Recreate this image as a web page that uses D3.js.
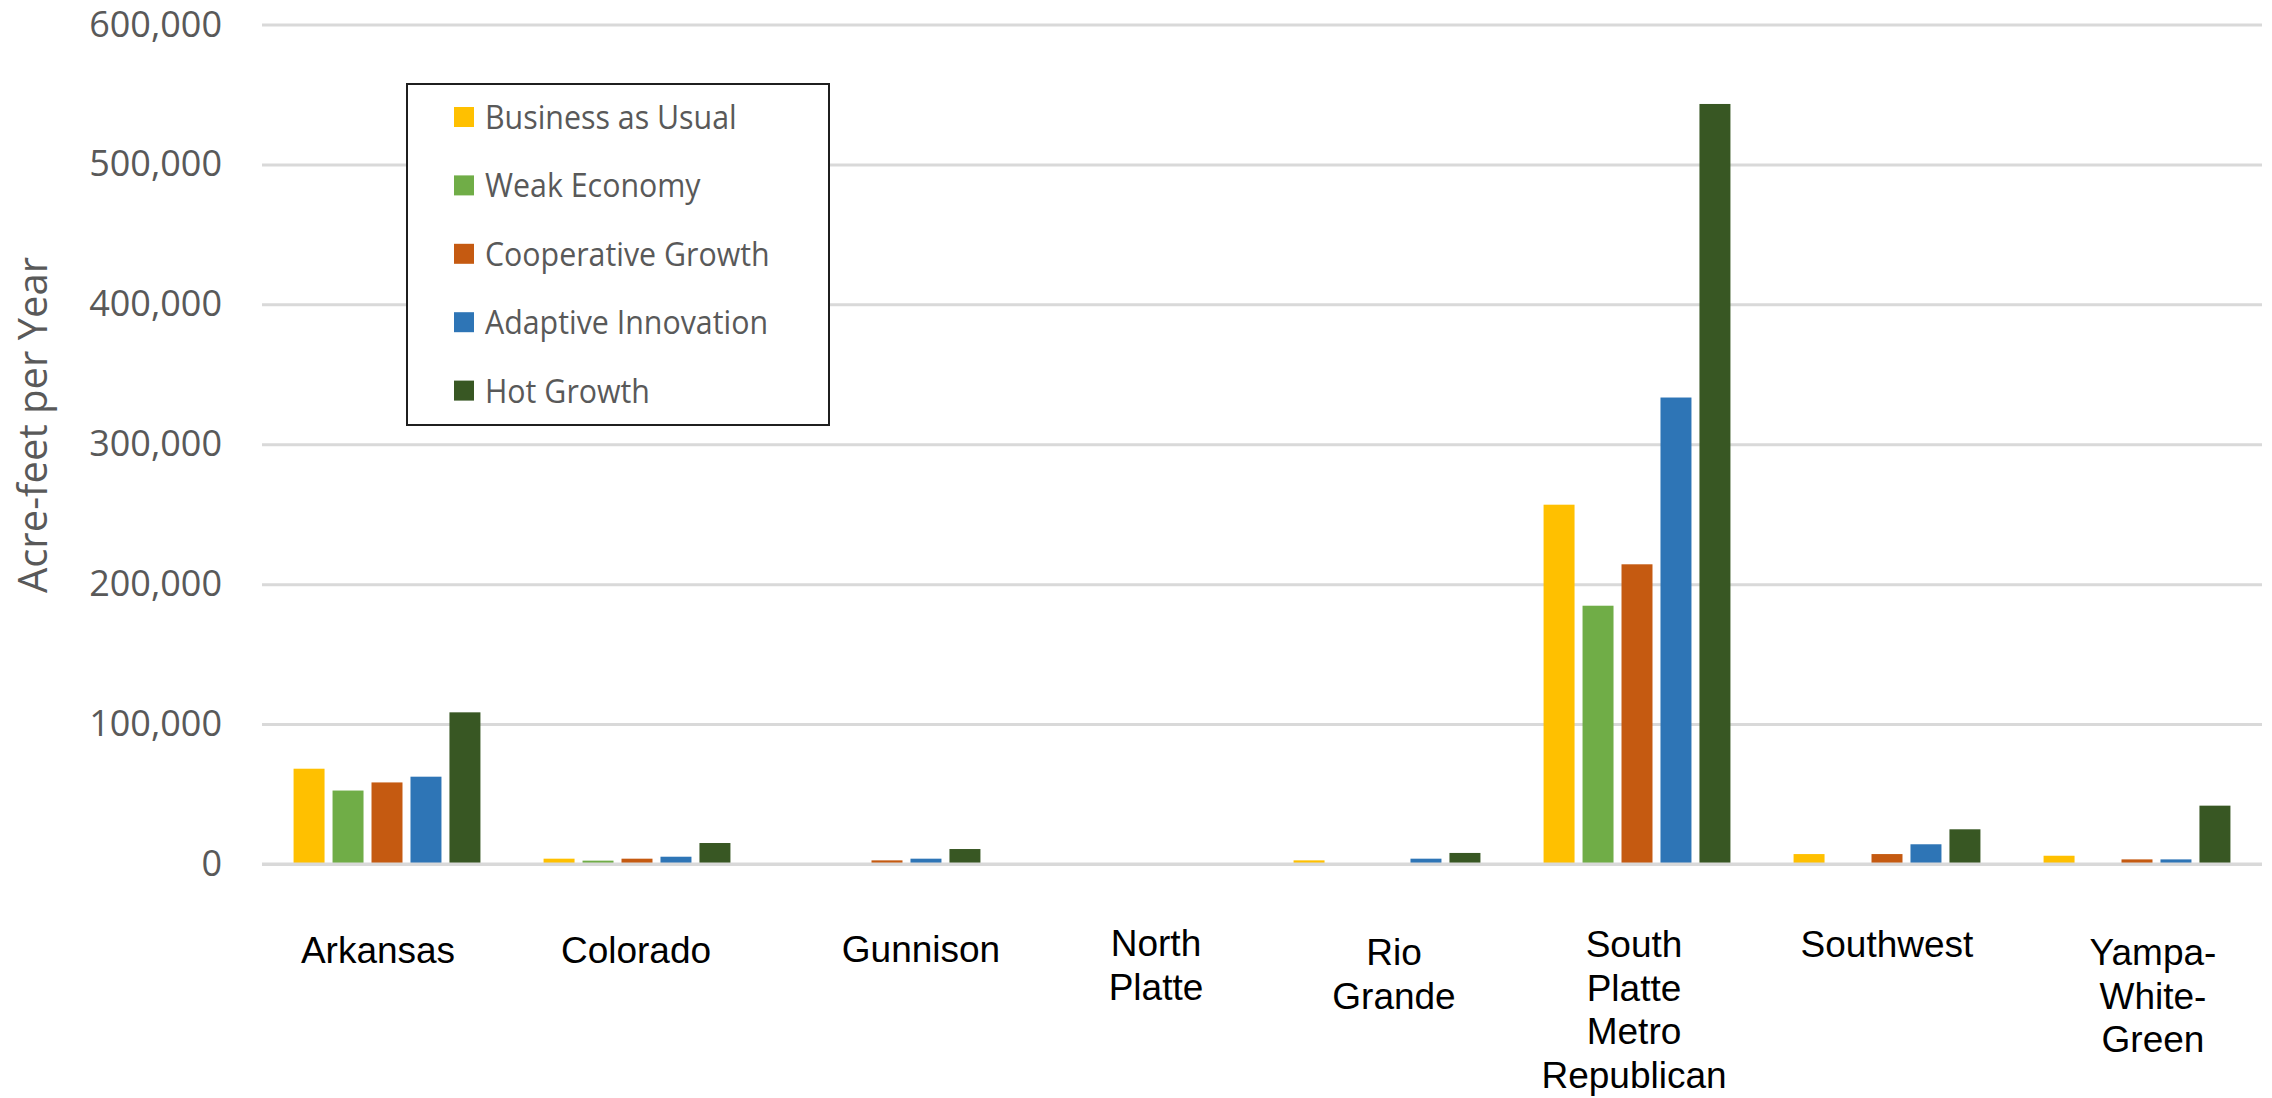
<!DOCTYPE html>
<html><head><meta charset="utf-8">
<script src="https://cdn.jsdelivr.net/npm/d3@7"></script>
<style>html,body{margin:0;padding:0;background:#fff;} svg{display:block}</style>
</head><body><svg id="chart" width="2272" height="1098"></svg>
<script>
// ---------- data ----------
const categories = ["Arkansas", "Colorado", "Gunnison", "North Platte", "Rio Grande",
  "South Platte Metro Republican", "Southwest", "Yampa-White-Green"];
const seriesNames = ["Business as Usual", "Weak Economy", "Cooperative Growth", "Adaptive Innovation", "Hot Growth"];
const businessAsUsual   = [68100, 3800, 0,     0, 2600, 256800, 7100,  5900];
const weakEconomy       = [52500, 2400, 0,     0, 0,    184600, 0,     0];
const cooperativeGrowth = [58300, 3800, 2600,  0, 0,    214200, 7100,  3300];
const adaptiveInnovation= [62400, 5200, 3800,  0, 3800, 333400, 14100, 3300];
const hotGrowth         = [108400,15000,10700, 0, 7900, 543200, 24800, 41700];
const yTicks = [0, 100000, 200000, 300000, 400000, 500000, 600000];
const yAxisTitle = "Acre-feet per Year";

// ---------- styles / layout ----------
const seriesColors = ["#FFC000", "#70AD47", "#C55A11", "#2E75B6", "#385723"];
const seriesValues = [businessAsUsual, weakEconomy, cooperativeGrowth, adaptiveInnovation, hotGrowth];
const plot = {left: 262, right: 2262, top: 24.5, bottom: 864};
// small horizontal nudges / first-line baselines of category labels as placed in the original
const labelNudge = {"Arkansas":[-9,963], "Colorado":[-1,963], "Gunnison":[34,962], "North Platte":[19,956],
  "Rio Grande":[7,965], "South Platte Metro Republican":[-3,957], "Southwest":[0,957], "Yampa-White-Green":[16,965]};

const svg = d3.select("#chart");

const x = d3.scaleBand().domain(categories).range([plot.left, plot.right]).paddingInner(0).paddingOuter(0);
const xs = d3.scaleBand().domain(seriesNames).range([0, x.bandwidth()]).paddingInner(0.205).paddingOuter(0.81);
const y = d3.scaleLinear().domain([0, 600000]).range([plot.bottom, plot.top]);

// gridlines + tick labels
const yAxis = d3.axisLeft(y).tickValues(yTicks).tickFormat(d3.format(","))
  .tickSize(-(plot.right - plot.left)).tickPadding(40);
const gy = svg.append("g").attr("transform", `translate(${plot.left},0)`).call(yAxis);
gy.select(".domain").remove();
gy.selectAll(".tick line").attr("stroke", "#d9d9d9").attr("stroke-width", 3);
gy.selectAll(".tick text").attr("fill", "#595959").attr("font-family", "'Open Sans', sans-serif")
  .attr("font-size", 36);

// bars
const rows = [];
categories.forEach((c, ci) => seriesNames.forEach((s, si) => rows.push({c, s, si, v: seriesValues[si][ci]})));
svg.append("g").selectAll("rect").data(rows).join("rect")
  .attr("x", d => x(d.c) + xs(d.s))
  .attr("width", xs.bandwidth())
  .attr("y", d => y(d.v))
  .attr("height", d => y(0) - y(d.v))
  .attr("fill", d => seriesColors[d.si]);

// zero (category axis) line on top
svg.append("line").attr("x1", plot.left).attr("x2", plot.right)
  .attr("y1", y(0)).attr("y2", y(0)).attr("stroke", "#d9d9d9").attr("stroke-width", 3);

// category labels
const lineGap = 43.5;
const catG = svg.append("g").attr("font-family", "'Liberation Sans', Arial, sans-serif")
  .attr("font-size", 37).attr("fill", "#000").attr("text-anchor", "middle");
categories.forEach(c => {
  const lines = c.split(/(?<=-)|\s+/);
  const [dx, base] = labelNudge[c];
  const t = catG.append("text").attr("x", x(c) + x.bandwidth() / 2 + dx).attr("y", base);
  lines.forEach((ln, i) => t.append("tspan").attr("x", x(c) + x.bandwidth() / 2 + dx)
    .attr("y", base + i * lineGap).text(ln));
});

// y axis title
svg.append("text").attr("transform", "translate(47,425) rotate(-90)")
  .attr("text-anchor", "middle").attr("font-family", "'Open Sans', sans-serif")
  .attr("font-size", 40).attr("fill", "#595959").text(yAxisTitle);

// legend
const lg = {x: 407, y: 84, w: 422, h: 341, sw: 20, swX: 454, textX: 485, firstY: 117, step: 68.4};
const leg = svg.append("g");
leg.append("rect").attr("x", lg.x).attr("y", lg.y).attr("width", lg.w).attr("height", lg.h)
  .attr("fill", "#fff").attr("stroke", "#1f1f1f").attr("stroke-width", 2);
seriesNames.forEach((s, i) => {
  const cy = lg.firstY + i * lg.step;
  leg.append("rect").attr("x", lg.swX).attr("y", cy - lg.sw / 2).attr("width", lg.sw).attr("height", lg.sw)
    .attr("fill", seriesColors[i]);
  leg.append("text").attr("transform", `translate(${lg.textX},${cy + 12}) scale(0.92,1)`)
    .attr("font-family", "'Open Sans', sans-serif").attr("font-size", 33).attr("fill", "#595959").text(s);
});
</script></body></html>
